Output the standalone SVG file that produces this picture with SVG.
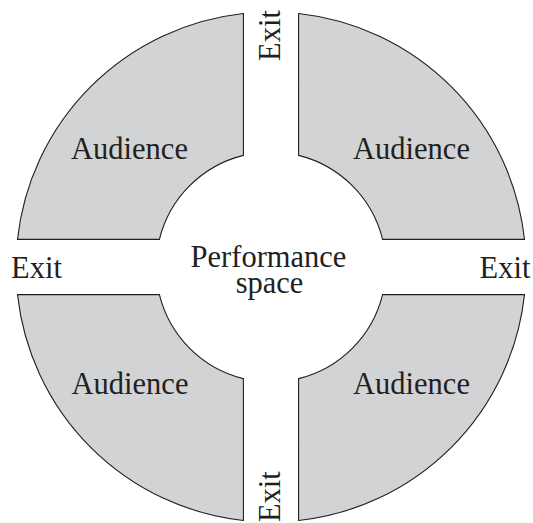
<svg xmlns="http://www.w3.org/2000/svg" width="533" height="523" viewBox="0 0 533 523">
<style>
.sec{fill:#d1d3d4;stroke:#231f20;stroke-width:1.1}
.t{font-family:"Liberation Serif","Times New Roman",serif;font-size:30.5px;fill:#231f20;text-anchor:middle}
</style>
<rect width="533" height="523" fill="#ffffff"/>
<g id="audience-tl">
<path class="sec" d="M243.4,13.5 L243.4,155.4 A115,115 0 0 0 159.4,239.4 L17.5,239.4 A255,255 0 0 1 243.4,13.5 Z"/>
<text class="t" x="129.5" y="159">Audience</text>
</g>
<g id="audience-tr">
<path class="sec" d="M298.6,13.5 A255,255 0 0 1 524.5,239.4 L382.6,239.4 A115,115 0 0 0 298.6,155.4 Z"/>
<text class="t" x="411.5" y="158.5">Audience</text>
</g>
<g id="audience-bl">
<path class="sec" d="M17.5,294.6 L159.4,294.6 A115,115 0 0 0 243.4,378.6 L243.4,520.5 A255,255 0 0 1 17.5,294.6 Z"/>
<text class="t" x="130" y="393.7">Audience</text>
</g>
<g id="audience-br">
<path class="sec" d="M298.6,378.6 A115,115 0 0 0 382.6,294.6 L524.5,294.6 A255,255 0 0 1 298.6,520.5 Z"/>
<text class="t" x="411.5" y="393.7">Audience</text>
</g>
<g id="performance">
<text class="t"><tspan x="268.5" y="266.7">Performance</tspan><tspan x="269.5" y="293.3">space</tspan></text>
</g>
<g id="exit-left"><text class="t" x="36.5" y="277.5">Exit</text></g>
<g id="exit-right"><text class="t" x="505" y="277.5">Exit</text></g>
<g id="exit-top"><text class="t" transform="translate(280,35.5) rotate(-90)" x="0" y="0">Exit</text></g>
<g id="exit-bottom"><text class="t" transform="translate(280,496.7) rotate(-90)" x="0" y="0">Exit</text></g>
<g id="connectors"></g>
</svg>
